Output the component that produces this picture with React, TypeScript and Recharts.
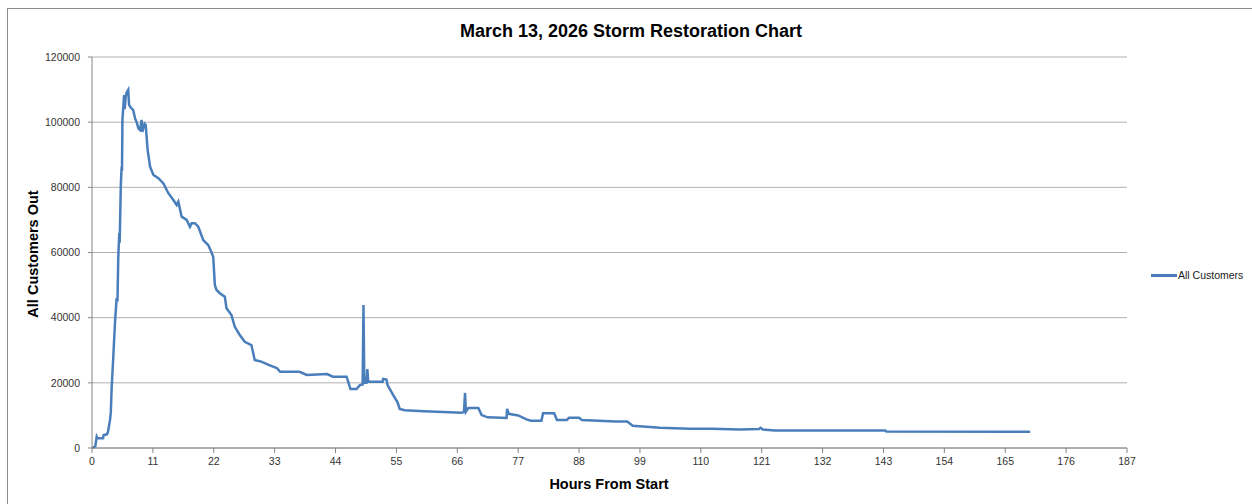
import * as React from "react"
import { LineChart, Line, XAxis, YAxis, CartesianGrid } from "recharts"

// readings taken off the restoration chart (hours from start, customers out)
const hours = [
  0, 0.6, 0.85, 1.0, 2.0, 2.1, 2.7, 2.9, 3.25, 3.4, 3.55, 3.85, 4.15, 4.45, 4.6, 4.75, 4.93, 5.0,
  5.2, 5.35, 5.42, 5.5, 5.8, 5.9, 6.0, 6.1, 6.25, 6.55, 6.7, 7.0, 7.45, 7.8, 8.05, 8.4, 8.65, 8.8,
  8.95, 9.1, 9.25, 9.5, 9.7, 10.05, 10.5, 11.1, 12.0, 12.9, 13.8, 14.7, 15.3, 15.6, 16.2, 17.1,
  17.7, 18.0, 18.6, 19.2, 20.1, 21.0, 21.6, 21.9, 22.2, 22.5, 23.1, 24.0, 24.3, 25.2, 25.8, 26.7,
  27.6, 28.8, 29.4, 30.6, 31.9, 33.4, 34.0, 37.5, 38.8, 42.5, 43.5, 46.0, 46.7, 47.8, 48.4, 48.9,
  49.05, 49.2, 49.6, 49.75, 49.9, 52.5, 52.6, 53.2, 53.4, 54.4, 55.2, 55.6, 56.5, 60, 66.8, 67.2,
  67.4, 67.55, 68.0, 69.8, 70.4, 71.5, 74.9, 75.0, 75.3, 77.0, 78.5, 79.3, 81.2, 81.5, 83.5, 84.0,
  85.8, 86.2, 88.0, 88.5, 94.6, 96.7, 97.7, 102.6, 108, 112, 117, 120.5, 120.8, 121.2, 123.4,
  143.3, 143.5, 169.5,
]

const customers = [
  0, 500, 3500, 3000, 3000, 4000, 4200, 5000, 8600, 11000, 18400, 28000, 38400, 46000, 45000,
  58700, 66000, 63000, 80200, 86300, 85000, 100700, 108300, 104000, 105900, 108000, 109000,
  109900, 105300, 104500, 103700, 101000, 100100, 98000, 97600, 99000, 100700, 97000, 98100,
  99500, 99100, 91500, 86300, 83800, 82800, 81200, 78200, 76100, 74600, 75600, 71000, 70000,
  67900, 69000, 69000, 67900, 63800, 62300, 60000, 58700, 50000, 48500, 47500, 46400, 42900,
  40800, 37200, 34700, 32600, 31600, 27000, 26500, 25500, 24500, 23400, 23400, 22400, 22700,
  21900, 21900, 18100, 18100, 19300, 19500, 43900, 20000, 20000, 24200, 20300, 20300, 21200,
  21000, 19300, 16300, 14000, 12000, 11600, 11300, 10800, 11100, 16900, 11100, 12300, 12300,
  10100, 9400, 9200, 12000, 10500, 10000, 8800, 8400, 8400, 10700, 10700, 8600, 8600, 9300,
  9300, 8600, 8100, 8100, 6800, 6200, 5900, 5900, 5700, 5800, 6200, 5700, 5400, 5400, 5100,
  5000,
]

const xTicks = [0, 11, 22, 33, 44, 55, 66, 77, 88, 99, 110, 121, 132, 143, 154, 165, 176, 187]
const yTicks = [0, 20000, 40000, 60000, 80000, 100000, 120000]

const data = hours.map((h, i) => ({ hour: h, customers: customers[i] }))

const font = "'Liberation Sans', Arial, sans-serif"
const lineColor = "#4A7EBB"

export default function App() {
  return (
    <div
      style={{
        position: "absolute",
        left: 0,
        top: 0,
        width: 1252,
        height: 504,
        overflow: "hidden",
        background: "#fff",
        fontFamily: font,
      }}
    >
      <div
        style={{
          position: "absolute",
          left: 7,
          top: 8,
          width: 1400,
          height: 700,
          border: "1px solid #8c8c8c",
        }}
      />
      <div
        style={{
          position: "absolute",
          left: 0,
          top: 21,
          width: 1262,
          textAlign: "center",
          fontSize: 18,
          fontWeight: "bold",
          color: "#000",
        }}
      >
        March 13, 2026 Storm Restoration Chart
      </div>
      <div
        style={{
          position: "absolute",
          left: 33,
          top: 254,
          transform: "translate(-50%, -50%) rotate(-90deg)",
          whiteSpace: "nowrap",
          fontSize: 14.5,
          fontWeight: "bold",
        }}
      >
        All Customers Out
      </div>
      <div
        style={{
          position: "absolute",
          left: 609,
          top: 484,
          transform: "translate(-50%, -50%)",
          whiteSpace: "nowrap",
          fontSize: 14.5,
          fontWeight: "bold",
        }}
      >
        Hours From Start
      </div>
      <div
        style={{
          position: "absolute",
          left: 1151,
          top: 269,
          display: "flex",
          alignItems: "center",
          fontSize: 10.5,
          color: "#222",
        }}
      >
        <span style={{ width: 26, height: 3, background: lineColor, display: "inline-block" }} />
        <span style={{ marginLeft: 1 }}>All Customers</span>
      </div>
      <div style={{ position: "absolute", left: 0, top: 0 }}>
        <LineChart
          width={1252}
          height={504}
          data={data}
          margin={{ top: 57, right: 125, left: 32, bottom: 0 }}
        >
          <CartesianGrid vertical={false} stroke="#b0b0b0" strokeWidth={1} />
          <XAxis
            dataKey="hour"
            type="number"
            domain={[0, 187]}
            ticks={xTicks}
            interval={0}
            height={56}
            tick={{ fill: "#333", fontSize: 10.5, fontFamily: font }}
            tickSize={5}
            tickMargin={5}
            tickLine={{ stroke: "#868686" }}
            axisLine={{ stroke: "#868686" }}
          />
          <YAxis
            type="number"
            domain={[0, 120000]}
            ticks={yTicks}
            interval={0}
            width={60}
            tick={{ fill: "#333", fontSize: 10.5, fontFamily: font }}
            tickSize={4}
            tickMargin={8}
            tickLine={{ stroke: "#868686" }}
            axisLine={{ stroke: "#868686" }}
          />
          <Line
            type="linear"
            dataKey="customers"
            stroke={lineColor}
            strokeWidth={2.5}
            dot={false}
            activeDot={false}
            isAnimationActive={false}
          />
        </LineChart>
      </div>
    </div>
  )
}
